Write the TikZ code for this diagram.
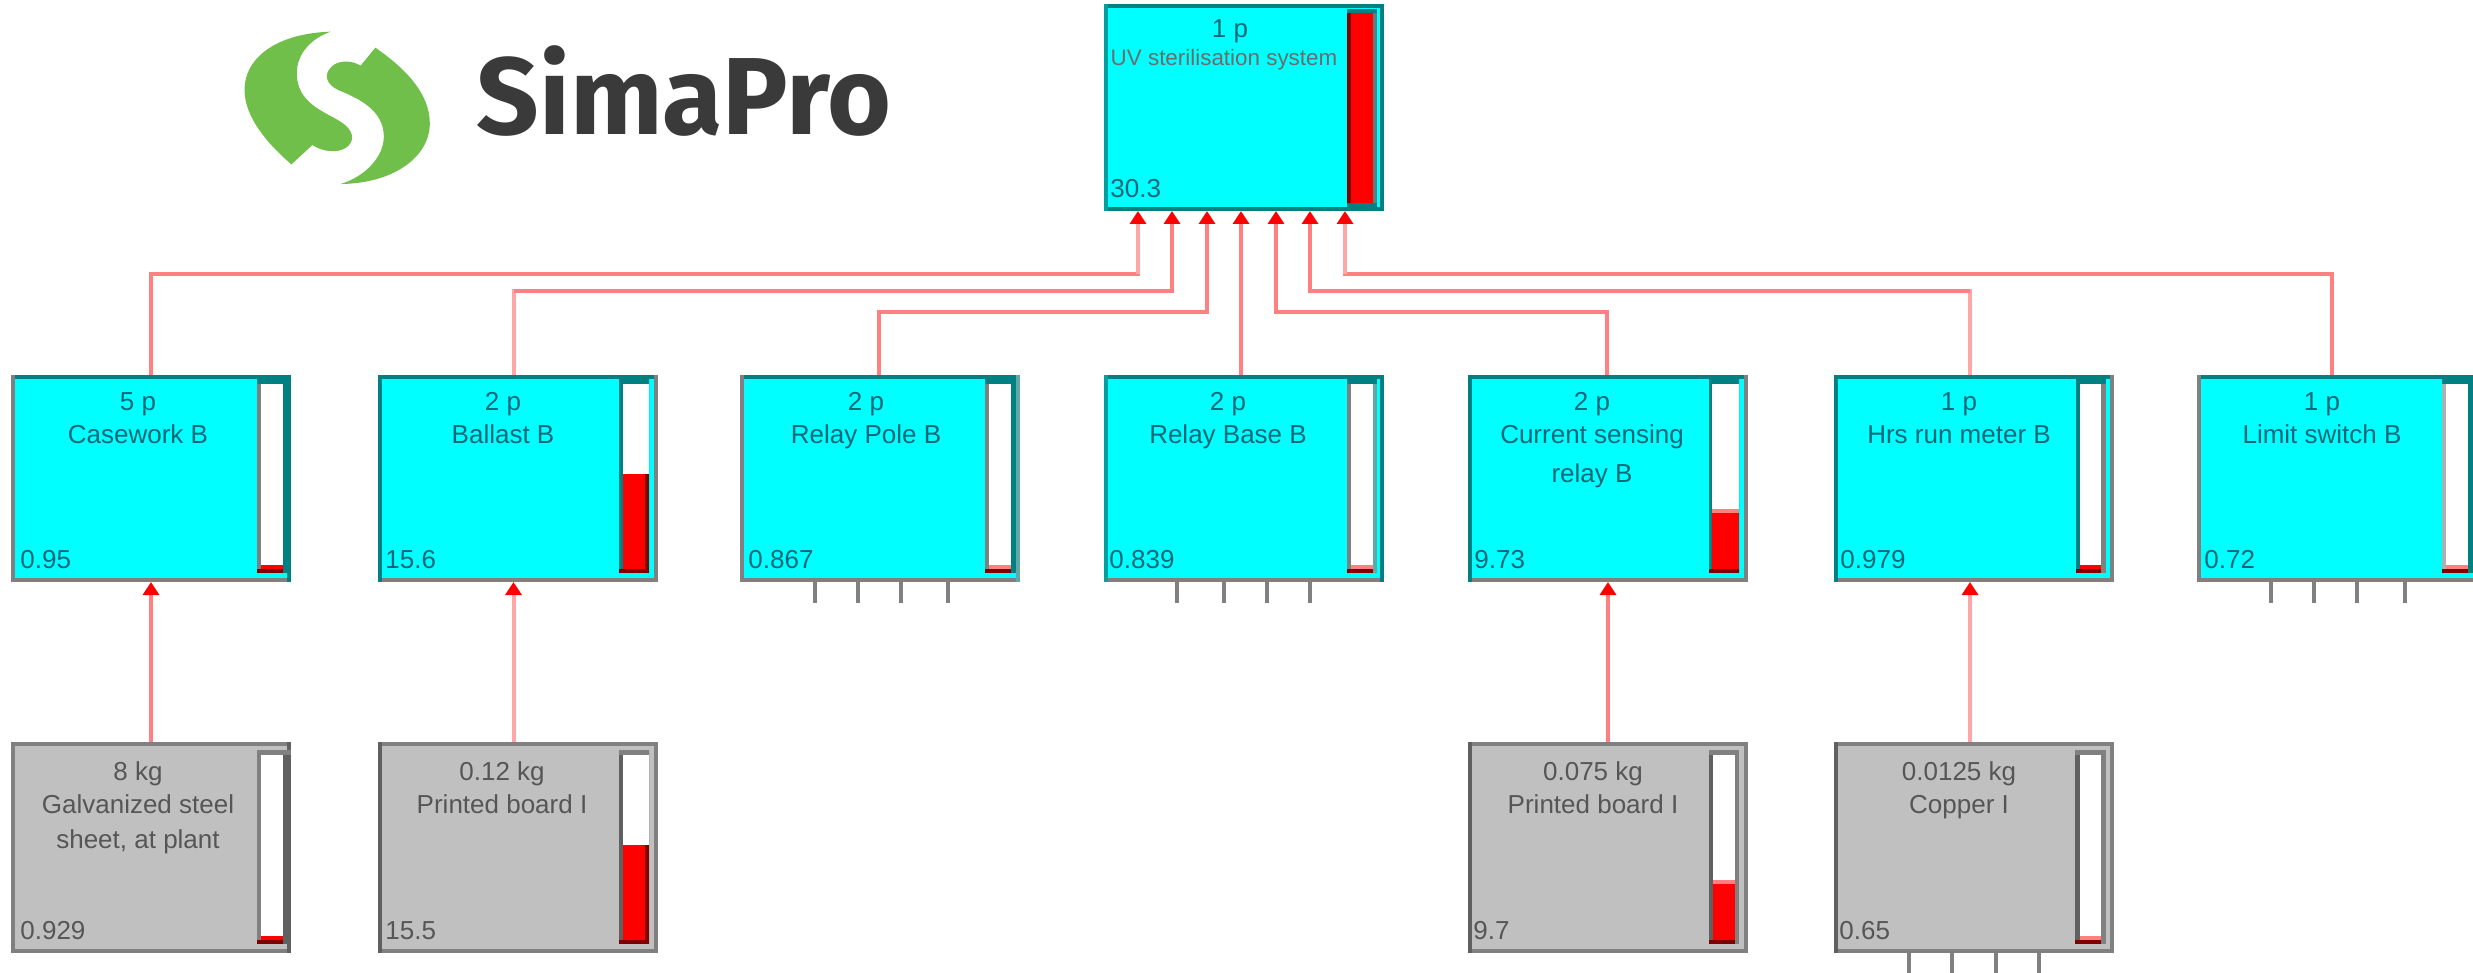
\documentclass[tikz,border=0pt]{standalone}
\usepackage{fontspec}
\setmainfont{Liberation Sans}
\newfontfamily\logofont{Fira Sans}
\usetikzlibrary{arrows.meta}
\definecolor{teal0}{HTML}{008080}
\definecolor{teal1}{HTML}{00A0A0}
\definecolor{teal2}{HTML}{60A8A8}
\definecolor{aqua0}{HTML}{00FFFF}
\definecolor{silver0}{HTML}{C0C0C0}
\definecolor{gray0}{HTML}{808080}
\definecolor{gray1}{HTML}{606060}
\definecolor{gray2}{HTML}{B0B0B0}
\definecolor{darkred0}{HTML}{800000}
\definecolor{pink0}{HTML}{FF8080}
\definecolor{pink1}{HTML}{FFA6A6}
\definecolor{logogreen}{HTML}{70BF4B}
\definecolor{logotext}{HTML}{3A3A3A}
\definecolor{txtA}{HTML}{006878}
\definecolor{txtB}{HTML}{565656}
\tikzset{
  x=0.5pt,y=-0.5pt,
  procbox/.style={rectangle,fill=aqua0,inner sep=0pt,outer sep=0pt,minimum width=140pt,minimum height=103.5pt},
  matbox/.style={rectangle,fill=silver0,inner sep=0pt,outer sep=0pt,minimum width=140pt,minimum height=105.5pt},
  lab/.style={anchor=base,inner sep=0pt,font=\fontsize{13pt}{15pt}\selectfont},
  val/.style={anchor=base west,inner sep=0pt,font=\fontsize{13pt}{15pt}\selectfont},
  seg/.style={draw=pink0,line width=2pt,line cap=rect},
  segb/.style={seg,draw=pink1},
  link/.style={draw=pink0,line width=2pt,-{Triangle[length=6.5pt,width=8pt,color=red]}},
  linkb/.style={link,draw=pink1},
  stub/.style={draw=gray0,line width=2pt},
}
\newcommand\frm[5]{%
  \fill[#2] (#1.north west) rectangle ([yshift=-2pt]#1.north east);
  \fill[#3] ([yshift=2pt]#1.south west) rectangle (#1.south east);
  \fill[#4] (#1.north west) rectangle ([xshift=2pt]#1.south west);
  \fill[#5] ([xshift=-2pt]#1.north east) rectangle (#1.south east);
}
\newcommand\barz[9]{% xl wl wr xr yt yw ry left right
  \fill[white] (#2,#6) rectangle (#3,\yb);
  \fill[red] (#2,#7) rectangle (#3,\yb);
  \fill[#8] (#1,#5) rectangle (#2,\yb);
  \fill[#9] (#3,#5) rectangle (#4,\yb);
  \fill[\bartop] (#1,#5) rectangle (#4,#6);
  \fill[darkred0] (#1,\yb-4) rectangle (#3,\yb);
}
\begin{document}
\begin{tikzpicture}
\useasboundingbox (0,0) rectangle (2473,973);
\clip (0,0) rectangle (2473,973);
\fill[white] (0,0) rectangle (2473,973);

% logo
\begin{scope}[shift={(220,10)},x=0.2232pt,y=-0.1667pt]
\fill[logogreen] (248,65) .. controls (130,70) and (55,140) .. (55,240)
  .. controls (55,320) and (105,400) .. (160,463) -- (207,405)
  .. controls (230,425) and (260,430) .. (280,415)
  .. controls (305,395) and (300,360) .. (270,335)
  .. controls (235,305) and (172,280) .. (172,190)
  .. controls (172,130) and (205,85) .. (248,65) -- cycle;
\fill[logogreen] (270,522) .. controls (390,520) and (470,440) .. (470,340)
  .. controls (470,250) and (415,175) .. (348,113) -- (315,167)
  .. controls (295,150) and (265,150) .. (250,170)
  .. controls (230,195) and (240,225) .. (265,240)
  .. controls (310,265) and (367,300) .. (367,380)
  .. controls (367,440) and (325,500) .. (270,522) -- cycle;
\end{scope}
\node[anchor=base west,inner sep=0pt,text=logotext,font=\fontsize{54.8pt}{60pt}\logofont\bfseries] (logo) at (476,135) {SimaPro};

% boxes
\node[procbox] (top) at (1244,107.5) {};
\node[procbox] (b1) at (151,478.5) {};
\node[procbox] (b2) at (517.5,478.5) {};
\node[procbox] (b3) at (879.5,478.5) {};
\node[procbox] (b4) at (1244,478.5) {};
\node[procbox] (b5) at (1608,478.5) {};
\node[procbox] (b6) at (1973.5,478.5) {};
\node[procbox] (b7) at (2337,478.5) {};
\node[matbox] (r1) at (151,847.5) {};
\node[matbox] (r2) at (517.5,847.5) {};
\node[matbox] (r5) at (1608,847.5) {};
\node[matbox] (r6) at (1974,847.5) {};

% connector ports
\coordinate (lev1) at (0,274);
\coordinate (lev2) at (0,291);
\coordinate (lev3) at (0,312);
\coordinate (p1) at ([xshift=-53pt]top.south);
\coordinate (p2) at ([xshift=-36pt]top.south);
\coordinate (p3) at ([xshift=-18.5pt]top.south);
\coordinate (p4) at ([xshift=-1.5pt]top.south);
\coordinate (p5) at ([xshift=16pt]top.south);
\coordinate (p6) at ([xshift=33pt]top.south);
\coordinate (p7) at ([xshift=50.5pt]top.south);
\coordinate (c2) at ([xshift=-2pt]b2.north);
\coordinate (c3) at ([xshift=-.25pt]b3.north);
\coordinate (c4) at ([xshift=-1.5pt]b4.north);
\coordinate (c5) at ([xshift=-.5pt]b5.north);
\coordinate (c6) at ([xshift=-1.75pt]b6.north);
\coordinate (c7) at ([xshift=-2.5pt]b7.north);

\draw[seg] (b1.north) -- (b1.north |- lev1) -- (p1 |- lev1);
\draw[linkb] (p1 |- lev1) -- (p1);
\draw[segb] (c2) -- (c2 |- lev2);
\draw[link] (c2 |- lev2) -- (p2 |- lev2) -- (p2);
\draw[link] (c3) -- (c3 |- lev3) -- (p3 |- lev3) -- (p3);
\draw[link] (c4) -- (p4);
\draw[link] (c5) -- (c5 |- lev3) -- (p5 |- lev3) -- (p5);
\draw[segb] (c6) -- (c6 |- lev2);
\draw[link] (c6 |- lev2) -- (p6 |- lev2) -- (p6);
\draw[seg] (c7) -- (c7 |- lev1) -- (p7 |- lev1);
\draw[linkb] (p7 |- lev1) -- (p7);

\draw[link] (r1.north) -- (b1.south);
\draw[linkb] ([xshift=-2pt]r2.north) -- ([xshift=-2pt]b2.south);
\draw[link] (r5.north) -- (b5.south);
\draw[linkb] ([xshift=-2pt]r6.north) -- ([xshift=-1.75pt]b6.south);

% stubs
\foreach \s in {-32.25,-10.75,10.75,34.25}
  \draw[stub] ([xshift=\s pt]b3.south) -- ++(0,21);
\foreach \s in {-33.5,-10,11.5,33}
  \draw[stub] ([xshift=\s pt]b4.south) -- ++(0,21);
\foreach \s in {-33,-11.5,10,34}
  \draw[stub] ([xshift=\s pt]b7.south) -- ++(0,21);
\foreach \s in {-32.5,-11,11,32.5}
  \draw[stub] ([xshift=\s pt]r6.south) -- ++(0,20);

% borders
\frm{top}{teal0}{teal0}{teal1}{teal0}
\frm{b1}{teal0}{gray0}{gray0}{teal0}
\frm{b2}{teal0}{gray0}{teal0}{gray0}
\frm{b3}{teal0}{gray0}{gray0}{teal2}
\frm{b4}{teal0}{gray0}{teal1}{teal0}
\frm{b5}{teal0}{gray0}{teal0}{gray0}
\frm{b6}{teal0}{gray0}{teal0}{gray0}
\frm{b7}{teal0}{gray0}{gray0}{teal0}
\frm{r1}{gray0}{gray0}{gray0}{gray1}
\frm{r2}{gray0}{gray0}{gray1}{gray0}
\frm{r5}{gray0}{gray0}{gray1}{gray0}
\frm{r6}{gray0}{gray0}{gray1}{gray0}

% top bar
\fill[red] (1351,13) rectangle (1373,203);
\fill[darkred0] (1347,13) rectangle (1351,203);
\fill[gray!70!teal0] (1373,13) rectangle (1377,203);
\fill[teal0] (1347,9) rectangle (1377,13);
\fill[teal0] (1347,203) rectangle (1377,207);

% bars, middle row
\def\yb{573}\def\bartop{teal0}
\barz{257}{261}{283}{291}{375}{384}{565}{gray0}{teal0}
\barz{619}{623}{649}{649}{375}{384}{474}{teal0}{teal0}
\fill[darkred0] (645,474) rectangle (649,573);
\barz{985}{989}{1011}{1016}{375}{384}{565}{gray0}{teal0}
\fill[pink0] (989,565) rectangle (1011,569);
\barz{1347}{1351}{1373}{1377}{375}{384}{565}{gray0}{teal2}
\fill[pink0] (1351,565) rectangle (1373,569);
\barz{1709}{1712}{1739}{1739}{375}{384}{513}{teal0}{teal0}
\fill[pink0] (1712,509) rectangle (1739,513);
\barz{2076}{2080}{2101}{2106}{375}{384}{565}{teal0}{gray0}
\barz{2442}{2446}{2468}{2477}{375}{384}{565}{gray2}{teal0}
\fill[pink0] (2446,565) rectangle (2468,569);

% bars, bottom row
\def\yb{944}\def\bartop{gray0}
\barz{257}{261}{283}{291}{750}{755}{936}{gray0}{gray1}
\barz{619}{623}{649}{649}{750}{755}{845}{gray1}{gray1}
\fill[darkred0] (645,845) rectangle (649,944);
\barz{1709}{1713}{1735}{1739}{750}{755}{884}{gray1}{gray0}
\fill[pink0] (1713,880) rectangle (1735,884);
\barz{2075}{2080}{2101}{2106}{750}{755}{940}{gray1}{gray0}
\fill[pink0] (2080,936) rectangle (2101,940);

% texts
\begin{scope}[text=txtA]
\node[lab] (tq) at (1230,38) {1 p};
\node[lab,text=gray!85!black,font=\fontsize{11.2pt}{13pt}\selectfont] (tn) at (1224,66) {UV sterilisation system};
\node[val] (tv) at (1110,198) {30.3};
\node[lab] (b1q) at (138,410) {5 p};
\node[lab] (b1n) at (138,443) {Casework B};
\node[val] (b1v) at (20,568) {0.95};
\node[lab] (b2q) at (503,410) {2 p};
\node[lab] (b2n) at (503,443) {Ballast B};
\node[val] (b2v) at (385,568) {15.6};
\node[lab] (b3q) at (866,410) {2 p};
\node[lab] (b3n) at (866,443) {Relay Pole B};
\node[val] (b3v) at (748,568) {0.867};
\node[lab] (b4q) at (1228,410) {2 p};
\node[lab] (b4n) at (1228,443) {Relay Base B};
\node[val] (b4v) at (1109,568) {0.839};
\node[lab] (b5q) at (1592,410) {2 p};
\node[lab] (b5n) at (1592,443) {Current sensing};
\node[lab] (b5m) at (1592,482) {relay B};
\node[val] (b5v) at (1474,568) {9.73};
\node[lab] (b6q) at (1959,410) {1 p};
\node[lab] (b6n) at (1959,443) {Hrs run meter B};
\node[val] (b6v) at (1840,568) {0.979};
\node[lab] (b7q) at (2322,410) {1 p};
\node[lab] (b7n) at (2322,443) {Limit switch B};
\node[val] (b7v) at (2204,568) {0.72};
\end{scope}
\begin{scope}[text=txtB]
\node[lab] (r1q) at (138,780) {8 kg};
\node[lab] (r1n) at (138,813) {Galvanized steel};
\node[lab] (r1m) at (138,848) {sheet, at plant};
\node[val] (r1v) at (20,939) {0.929};
\node[lab] (r2q) at (502,780) {0.12 kg};
\node[lab] (r2n) at (502,813) {Printed board I};
\node[val] (r2v) at (385,939) {15.5};
\node[lab] (r5q) at (1593,780) {0.075 kg};
\node[lab] (r5n) at (1593,813) {Printed board I};
\node[val] (r5v) at (1473,939) {9.7};
\node[lab] (r6q) at (1959,780) {0.0125 kg};
\node[lab] (r6n) at (1959,813) {Copper I};
\node[val] (r6v) at (1839,939) {0.65};
\end{scope}
\end{tikzpicture}
\end{document}
